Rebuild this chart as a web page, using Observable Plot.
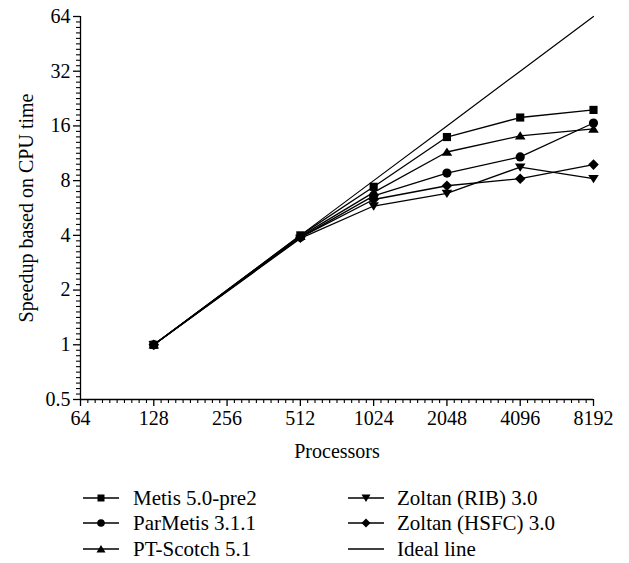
<!DOCTYPE html>
<html>
<head>
<meta charset="utf-8">
<script src="https://cdn.jsdelivr.net/npm/d3@7"></script>
<script src="https://cdn.jsdelivr.net/npm/@observablehq/plot@0.6"></script>
<style>
  html, body { margin: 0; padding: 0; background: #fff; }
  #wrap { position: relative; width: 629px; height: 563px; font-family: "Liberation Serif", "DejaVu Serif", serif; color: #000; }
  .leg { position: absolute; height: 24px; font-size: 21px; white-space: nowrap; }
  .leg svg { position: absolute; left: 0; top: 0; }
  .leg span { position: absolute; top: 0; line-height: 24px; }
</style>
</head>
<body>
<div id="wrap"></div>
<script>
// ---- data ----
const processors = [128, 512, 1024, 2048, 4096, 8192];
const seriesNames = ["Metis 5.0-pre2", "ParMetis 3.1.1", "PT-Scotch 5.1", "Zoltan (RIB) 3.0", "Zoltan (HSFC) 3.0", "Ideal line"];
const metis      = [1, 4.0, 7.4, 13.9, 17.8, 19.6];
const parmetis   = [1, 3.9, 6.6, 8.8, 10.8, 16.6];
const ptscotch   = [1, 3.95, 6.9, 11.5, 14.1, 15.4];
const zoltanRIB  = [1, 3.85, 5.8, 6.8, 9.5, 8.2];
const zoltanHSFC = [1, 3.9, 6.3, 7.5, 8.2, 9.8];
const ideal      = [1, 4, 8, 16, 32, 64];
const xTickValues = [64, 128, 256, 512, 1024, 2048, 4096, 8192];
const yTickValues = [0.5, 1, 2, 4, 8, 16, 32, 64];

// ---- symbols ----
const rr = s => Math.sqrt(s / Math.PI);
const symSquare = d3.symbolSquare;
const symCircle = d3.symbolCircle;
const symTriUp = { draw(ctx, size) { const r = rr(size);
  ctx.moveTo(0, -1.0 * r); ctx.lineTo(1.15 * r, 0.8 * r); ctx.lineTo(-1.15 * r, 0.8 * r); ctx.closePath(); } };
const symTriDown = { draw(ctx, size) { const r = rr(size);
  ctx.moveTo(0, 1.0 * r); ctx.lineTo(1.15 * r, -0.8 * r); ctx.lineTo(-1.15 * r, -0.8 * r); ctx.closePath(); } };
const symDiamond = { draw(ctx, size) { const r = rr(size) * 1.15;
  ctx.moveTo(0, -r); ctx.lineTo(r, 0); ctx.lineTo(0, r); ctx.lineTo(-r, 0); ctx.closePath(); } };

const seriesValues = [metis, parmetis, ptscotch, zoltanRIB, zoltanHSFC];
const seriesSymbols = [symSquare, symCircle, symTriUp, symTriDown, symDiamond];

const rows = [];
seriesValues.forEach((vals, i) => vals.forEach((v, j) => rows.push({series: seriesNames[i], p: processors[j], s: v})));
const idealRows = ideal.map((v, j) => ({series: seriesNames[5], p: processors[j], s: v}));

// minor ticks: 10 per doubling
const xMinor = []; for (let k = 0; k <= 70; k++) if (k % 10) xMinor.push(64 * Math.pow(2, k / 10));
const yMinor = []; for (let k = 0; k <= 70; k++) if (k % 10) yMinor.push(0.5 * Math.pow(2, k / 10));

const marks = [
  Plot.axisX(xMinor, {tickSize: 4, tickFormat: () => "", label: null, stroke: "#000", strokeWidth: 1.1}),
  Plot.axisY(yMinor, {tickSize: 4, tickFormat: () => "", label: null, stroke: "#000", strokeWidth: 1.1}),
  Plot.axisX(xTickValues, {tickSize: 7, tickPadding: 4, tickFormat: d => String(d), stroke: "#000", strokeWidth: 1.3,
    label: "Processors", labelAnchor: "center", labelArrow: "none", labelOffset: 58, fontSize: 20}),
  Plot.axisY(yTickValues, {tickSize: 7, tickPadding: 3, tickFormat: d => String(d), stroke: "#000", strokeWidth: 1.3,
    label: "Speedup based on CPU time", labelAnchor: "center", labelArrow: "none", labelOffset: 62, fontSize: 20}),
  Plot.ruleY([0.5], {stroke: "black", strokeWidth: 1.3}),
  Plot.ruleX([64], {stroke: "black", strokeWidth: 1.3}),
  Plot.line(idealRows, {x: "p", y: "s", stroke: "black", strokeWidth: 1.2}),
  Plot.line(rows, {x: "p", y: "s", z: "series", stroke: "black", strokeWidth: 1.3})
];
seriesNames.slice(0, 5).forEach((name, i) => {
  marks.push(Plot.dot(rows.filter(d => d.series === name), {x: "p", y: "s", symbol: seriesSymbols[i], r: 4.6, fill: "black", stroke: "none"}));
});

const chart = Plot.plot({
  width: 629, height: 470,
  marginLeft: 80, marginRight: 36, marginTop: 16, marginBottom: 71,
  style: {fontFamily: '"Liberation Serif", "DejaVu Serif", serif', fontSize: "21px", color: "#000", background: "#fff"},
  x: {type: "log", base: 2, domain: [64, 8192]},
  y: {type: "log", base: 2, domain: [0.5, 64]},
  marks
});
const wrap = document.getElementById("wrap");
chart.style.position = "absolute"; chart.style.left = "0"; chart.style.top = "0";
wrap.appendChild(chart);

// ---- legend ----
const legendPos = [
  {x: 83, t: 133, y: 498}, {x: 83, t: 133, y: 523}, {x: 83, t: 133, y: 549},
  {x: 348, t: 397, y: 498}, {x: 348, t: 397, y: 523}, {x: 348, t: 397, y: 549}
];
const legendSym = ["square", "circle", "triUp", "triDown", "diamond", "none"];
function symPath(kind) {
  const c = 18, m = 12;
  switch (kind) {
    case "square": return `<rect x="${c-3.5}" y="${m-3.5}" width="7" height="7" fill="#000"/>`;
    case "circle": return `<circle cx="${c}" cy="${m}" r="3.8" fill="#000"/>`;
    case "triUp": return `<path d="M${c},${m-4} L${c+4.5},${m+3.5} L${c-4.5},${m+3.5}Z" fill="#000"/>`;
    case "triDown": return `<path d="M${c},${m+4} L${c+4.5},${m-3.5} L${c-4.5},${m-3.5}Z" fill="#000"/>`;
    case "diamond": return `<path d="M${c},${m-4.5} L${c+4.5},${m} L${c},${m+4.5} L${c-4.5},${m}Z" fill="#000"/>`;
    default: return "";
  }
}
seriesNames.forEach((name, i) => {
  const p = legendPos[i];
  const div = document.createElement("div");
  div.className = "leg";
  div.style.left = p.x + "px";
  div.style.top = (p.y - 12) + "px";
  div.style.width = "260px";
  div.innerHTML = `<svg width="37" height="24"><line x1="0" x2="36" y1="12" y2="12" stroke="#000" stroke-width="1.3"/>${symPath(legendSym[i])}</svg><span style="left:${p.t - p.x}px">${name}</span>`;
  wrap.appendChild(div);
});
</script>
</body>
</html>
